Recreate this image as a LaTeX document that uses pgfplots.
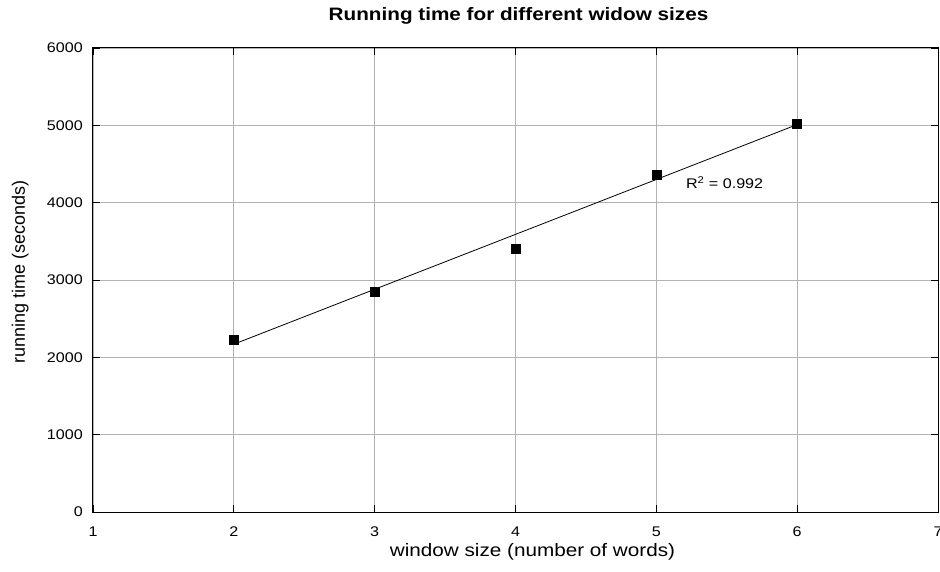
\documentclass[border=0pt]{standalone}
\usepackage{pgfplots}
\pgfplotsset{compat=1.18}
\usepackage{fontspec}
\setmainfont{Liberation Sans}[FakeStretch=1.15]
\newfontfamily\plainsans{Liberation Sans}
\begin{document}
\begin{tikzpicture}
\begin{axis}[
  scale only axis,
  width=845pt, height=464pt,
  xmin=1, xmax=7, ymin=0, ymax=6000,
  xtick={1,2,3,4,5,6,7},
  ytick={0,1000,2000,3000,4000,5000,6000},
  /pgf/number format/assume math mode=true,
  scaled y ticks=false,
  yticklabel style={/pgf/number format/fixed,/pgf/number format/1000 sep={}},
  tick label style={font=\fontsize{14}{16}\selectfont},
  xticklabel style={anchor=base, inner sep=0pt, yshift=-24pt},
  yticklabel style={anchor=east, inner sep=0pt, xshift=-10pt},
  major tick length=7pt,
  tick style={black, line width=0.8pt},
  grid=major,
  grid style={color=black!30, line width=0.8pt},
  axis line style={black, line width=1pt},
  title={Running time for different widow sizes},
  title style={font=\fontsize{18}{20}\selectfont\bfseries, at={(0.5,1)}, anchor=base, inner sep=0pt, yshift=21pt, xshift=3pt},
  xlabel={window size (number of words)},
  ylabel={running time (seconds)},
  xlabel style={font=\fontsize{18}{20}\selectfont, at={(0.5,0)}, anchor=base, inner sep=0pt, yshift=-44pt, xshift=17pt},
  ylabel style={font=\fontsize{18}{20}\selectfont\plainsans, at={(0,0.5)}, anchor=base, inner sep=0pt, yshift=68pt, xshift=8pt},
]
\addplot[black, line width=0.8pt, no marks] coordinates {(2,2170) (6,5010)};
\addplot[only marks, mark=square*, mark size=4.5pt, black] coordinates {
  (2,2225) (3,2845) (4,3410) (5,4358) (6,5025)
};
\node[anchor=west, inner sep=0pt, font=\fontsize{14}{16}\selectfont] at (axis cs:5.21,4260) {R\textsuperscript{2} = 0.992};
\end{axis}
\pgfresetboundingbox
\path[use as bounding box] (-93pt,-59pt) rectangle (847pt,512pt);
\end{tikzpicture}
\end{document}
